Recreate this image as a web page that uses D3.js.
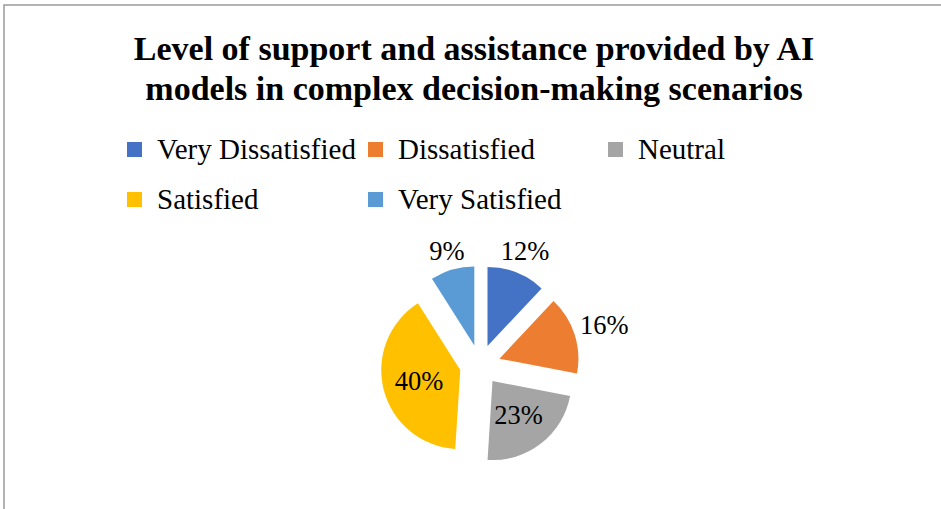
<!DOCTYPE html>
<html>
<head>
<meta charset="utf-8">
<script src="https://cdn.jsdelivr.net/npm/d3@7"></script>
<style>
  html, body { margin: 0; padding: 0; background: #fff; }
  svg { display: block; }
  svg text { font-family: "Liberation Serif", "Times New Roman", Times, serif; }
</style>
</head>
<body>
<svg id="chart" width="941" height="509"></svg>
<script>
// Survey responses
const categories = ["Very Dissatisfied", "Dissatisfied", "Neutral", "Satisfied", "Very Satisfied"];
const values = [12, 16, 23, 40, 9];
const colors = ["#4472C4", "#ED7D31", "#A5A5A5", "#FFC000", "#5B9BD5"];
const titleLines = [
  "Level of support and assistance provided by AI",
  "models in complex decision-making scenarios"
];

const FONT = "'Liberation Serif', 'Times New Roman', Times, serif";
const svg = d3.select("#chart");

// Chart frame (top and left edges)
svg.append("path")
  .attr("d", "M4,509 V5 H941")
  .attr("fill", "none")
  .attr("stroke", "#9a9a9a")
  .attr("stroke-width", 1.5);

// Title
svg.append("g").selectAll("text")
  .data(titleLines)
  .join("text")
  .attr("x", 474)
  .attr("y", (d, i) => 60 + i * 40)
  .attr("text-anchor", "middle")
  .attr("font-family", FONT)
  .attr("font-size", 34)
  .attr("font-weight", "bold")
  .attr("fill", "#000")
  .text(d => d);

// Legend: three columns, two rows
const colX = [127, 368, 608];
const rowY = [142, 192];
const legend = svg.append("g").selectAll("g")
  .data(categories)
  .join("g")
  .attr("transform", (d, i) => `translate(${colX[i % 3]},${rowY[Math.floor(i / 3)]})`);
legend.append("rect")
  .attr("width", 15).attr("height", 15)
  .attr("fill", (d, i) => colors[i]);
legend.append("text")
  .attr("x", 30).attr("y", 17)
  .attr("font-family", FONT)
  .attr("font-size", 29)
  .attr("fill", "#000")
  .text(d => d);

// Exploded pie
const cx = 480, cy = 365, radius = 79, explode = 20.4;
const pie = d3.pie().sort(null).value(d => d)(values);
const arc = d3.arc().innerRadius(0).outerRadius(radius);
const mid = d => (d.startAngle + d.endAngle) / 2;

const slices = svg.append("g").attr("transform", `translate(${cx},${cy})`);
slices.selectAll("path")
  .data(pie)
  .join("path")
  .attr("transform", d => `translate(${Math.sin(mid(d)) * explode},${-Math.cos(mid(d)) * explode})`)
  .attr("d", arc)
  .attr("fill", (d, i) => colors[i]);

// Percentage labels: small slices get an outside label clear of the rim,
// large slices carry their label inside the wedge
const total = d3.sum(values);
slices.selectAll("text")
  .data(pie)
  .join("text")
  .attr("text-anchor", "middle")
  .attr("font-family", FONT)
  .attr("font-size", 26.5)
  .attr("fill", "#000")
  .attr("dy", "0.35em")
  .text(d => Math.round(d.data / total * 100) + "%")
  .each(function (d) {
    const a = mid(d);
    const sx = Math.sin(a), sy = -Math.cos(a);
    let r;
    if (d.data / total < 0.2) {
      const bb = this.getBBox();
      const extent = Math.abs(sx) * bb.width / 2 + Math.abs(sy) * 10;
      r = radius + explode + 5 + extent;
    } else {
      r = 63;
    }
    d3.select(this).attr("x", sx * r).attr("y", sy * r);
  });
</script>
</body>
</html>
